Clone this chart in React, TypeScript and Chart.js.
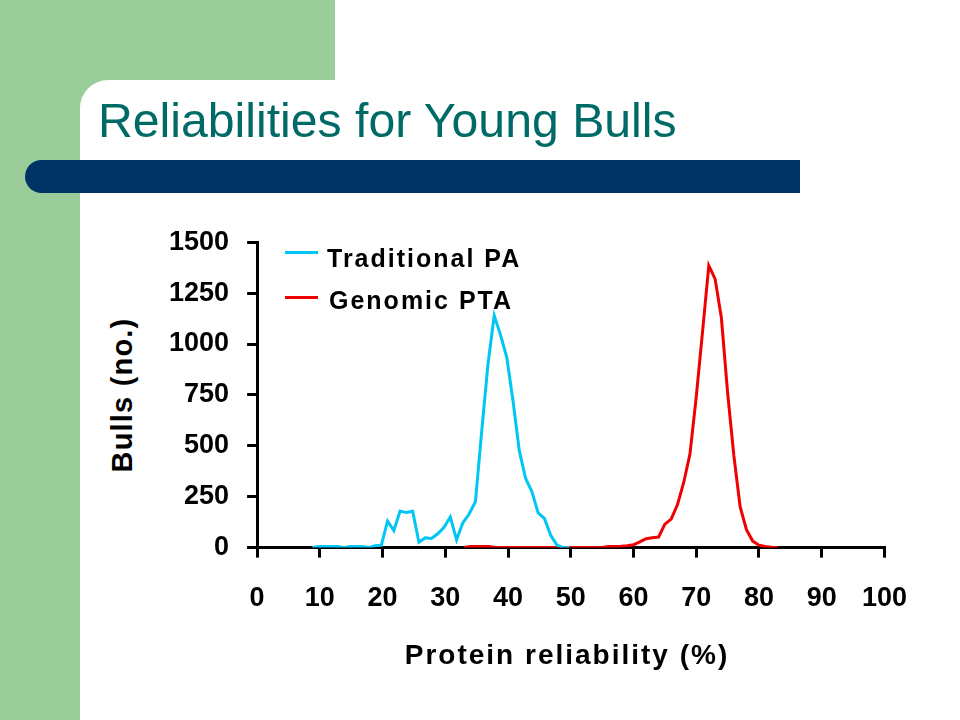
import React, { useEffect, useRef } from "react";
import { Chart, registerables } from "chart.js";

Chart.register(...registerables);

const chartTitle = "Reliabilities for Young Bulls";
const xAxisTitle = "Protein reliability (%)";
const yAxisTitle = "Bulls (no.)";
const seriesLabels = ["Traditional PA", "Genomic PTA"];
const seriesColors = ["#00C6F5", "#F00000"];

const xTickValues = [0, 10, 20, 30, 40, 50, 60, 70, 80, 90, 100];
const yTickValues = [0, 250, 500, 750, 1000, 1250, 1500];

// Traditional PA: reliability (%) and number of bulls
const traditionalReliability = [
  8.8, 9.8, 10.8, 11.8, 12.8, 13.8, 14.8, 15.8, 16.8, 17.8, 18.8, 19.8, 20.8,
  21.8, 22.8, 23.8, 24.8, 25.8, 26.8, 27.8, 28.8, 29.8, 30.8, 31.8, 32.8, 33.8,
  34.8, 35.8, 36.8, 37.8, 38.8, 39.8, 40.8, 41.8, 42.8, 43.8, 44.8, 45.8, 46.8,
  47.8, 48.8, 49.8,
];
const traditionalBulls = [
  0, 6, 6, 6, 5, 0, 6, 6, 5, 0, 9, 11, 130, 84, 180, 172, 178, 26, 48, 45, 68,
  100, 150, 38, 122, 165, 225, 570, 900, 1140, 1045, 935, 720, 475, 340, 275,
  170, 143, 60, 12, 0, 0,
];

// Genomic PTA: reliability (%) and number of bulls
const genomicReliability = [
  33, 34, 35, 36, 37, 38, 39, 40, 41, 42, 43, 44, 45, 46, 47, 48, 49, 50, 51,
  52, 53, 54, 55, 56, 57, 58, 59, 60, 61, 62, 63, 64, 65, 66, 67, 68, 69, 70,
  71, 72, 73, 74, 75, 76, 77, 78, 79, 80, 81, 82, 83,
];
const genomicBulls = [
  0, 5, 5, 5, 5, 0, 0, 0, 0, 0, 0, 0, 0, 0, 0, 0, 0, 0, 0, 0, 0, 0, 0, 5, 6, 7,
  9, 14, 28, 44, 48, 52, 115, 140, 210, 320, 460, 740, 1060, 1385, 1320, 1130,
  760, 450, 200, 88, 32, 12, 5, 2, 0,
];

const FONT = "'Liberation Sans', Arial, Helvetica, sans-serif";

export default function App() {
  const canvasRef = useRef<HTMLCanvasElement | null>(null);

  useEffect(() => {
    if (!canvasRef.current) return;
    const toPoints = (xs: number[], ys: number[]) =>
      xs.map((x, i) => ({ x, y: ys[i] }));
    const chart = new Chart(canvasRef.current, {
      type: "line",
      data: {
        datasets: [
          {
            label: seriesLabels[0],
            data: toPoints(traditionalReliability, traditionalBulls),
            borderColor: seriesColors[0],
            borderWidth: 3,
            pointRadius: 0,
            tension: 0,
            fill: false,
          },
          {
            label: seriesLabels[1],
            data: toPoints(genomicReliability, genomicBulls),
            borderColor: seriesColors[1],
            borderWidth: 3,
            pointRadius: 0,
            tension: 0,
            fill: false,
          },
        ],
      },
      options: {
        animation: false,
        responsive: true,
        maintainAspectRatio: false,
        layout: { padding: { left: 9, right: 40, top: 20, bottom: 8 } },
        plugins: {
          legend: { display: false },
          tooltip: { enabled: false },
          title: { display: false },
        },
        scales: {
          x: {
            type: "linear",
            min: 0,
            max: 100,
            z: 1,
            afterBuildTicks: (axis: any) => {
              axis.ticks = xTickValues.map((v) => ({ value: v }));
            },
            ticks: {
              color: "#000",
              font: { family: FONT, size: 27, weight: "bold" },
              padding: 25,
              maxRotation: 0,
              autoSkip: false,
              callback: (v: any) => String(v),
            },
            grid: {
              drawOnChartArea: false,
              drawTicks: true,
              tickLength: 10,
              color: "#000",
              lineWidth: 3,
            },
            border: { display: true, color: "#000", width: 3 },
          },
          y: {
            type: "linear",
            min: 0,
            max: 1500,
            z: 1,
            afterBuildTicks: (axis: any) => {
              axis.ticks = yTickValues.map((v) => ({ value: v }));
            },
            ticks: {
              color: "#000",
              font: { family: FONT, size: 27, weight: "bold" },
              padding: 18,
              autoSkip: false,
              callback: (v: any) => String(v),
            },
            grid: {
              drawOnChartArea: false,
              drawTicks: true,
              tickLength: 10,
              color: "#000",
              lineWidth: 3,
            },
            border: { display: true, color: "#000", width: 3 },
          },
        },
      },
    });
    return () => chart.destroy();
  }, []);

  const green = "#9ACD9A";
  return (
    <div
      style={{
        position: "fixed",
        left: 0,
        top: 0,
        width: 960,
        height: 720,
        background: "#fff",
        overflow: "hidden",
        fontFamily: FONT,
      }}
    >
      <div style={{ position: "absolute", left: 0, top: 0, width: 335, height: 130, background: green }} />
      <div style={{ position: "absolute", left: 0, top: 0, width: 80, height: 720, background: green }} />
      <div
        style={{
          position: "absolute",
          left: 80,
          top: 80,
          width: 880,
          height: 640,
          background: "#fff",
          borderTopLeftRadius: 28,
        }}
      />
      <div
        style={{
          position: "absolute",
          left: 98,
          top: 96,
          fontSize: 48.2,
          lineHeight: "48px",
          color: "#006B66",
          whiteSpace: "nowrap",
        }}
      >
        {chartTitle}
      </div>
      <div
        style={{
          position: "absolute",
          left: 25,
          top: 160,
          width: 775,
          height: 33,
          background: "#003466",
          borderRadius: "17px 0 0 17px",
        }}
      />
      <div style={{ position: "absolute", left: 142, top: 208, width: 790, height: 440 }}>
        <canvas ref={canvasRef} />
      </div>
      {/* y axis title */}
      <div
        style={{
          position: "absolute",
          left: 122,
          top: 395,
          transform: "translate(-50%, -50%) rotate(-90deg)",
          fontSize: 29,
          fontWeight: "bold",
          letterSpacing: "1.2px",
          whiteSpace: "nowrap",
          lineHeight: "32px",
          color: "#000",
        }}
      >
        {yAxisTitle}
      </div>
      {/* x axis title */}
      <div
        style={{
          position: "absolute",
          left: 567,
          top: 655,
          transform: "translate(-50%, -50%)",
          fontSize: 28,
          fontWeight: "bold",
          letterSpacing: "2px",
          whiteSpace: "nowrap",
          lineHeight: "32px",
          color: "#000",
        }}
      >
        {xAxisTitle}
      </div>
      {/* legend */}
      {seriesLabels.map((label, i) => (
        <React.Fragment key={label}>
          <div
            style={{
              position: "absolute",
              left: 285,
              top: 251 + i * 45,
              width: 33,
              height: 3,
              background: seriesColors[i],
            }}
          />
          <div
            style={{
              position: "absolute",
              left: 327 + i * 2,
              top: 258 + i * 42,
              transform: "translateY(-50%)",
              fontSize: 25,
              fontWeight: "bold",
              letterSpacing: "2px",
              whiteSpace: "nowrap",
              lineHeight: "30px",
              color: "#000",
            }}
          >
            {label}
          </div>
        </React.Fragment>
      ))}
    </div>
  );
}
